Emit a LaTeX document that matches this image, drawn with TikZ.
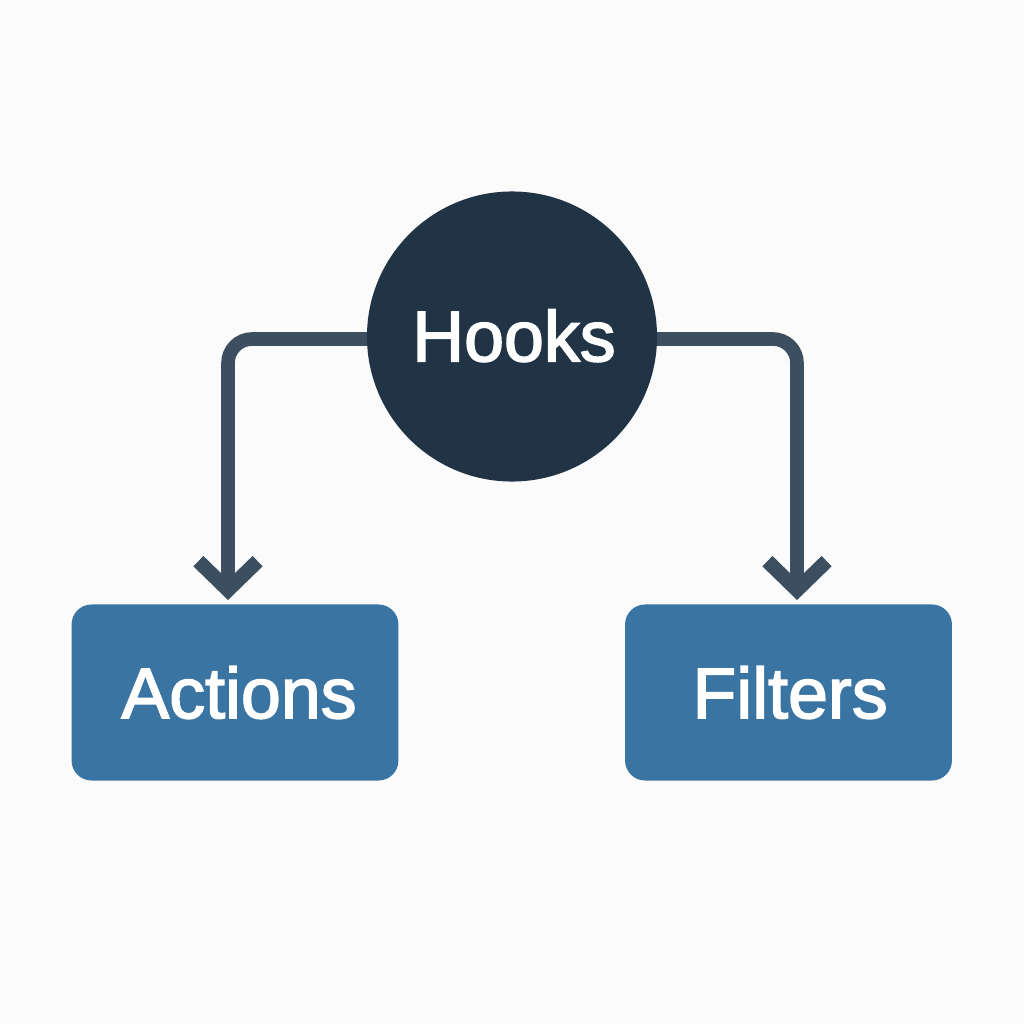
\documentclass[tikz,border=0pt]{standalone}
\usepackage{fontspec}
\setmainfont[FakeBold=2.2]{Liberation Sans}
\usetikzlibrary{arrows.meta}
\definecolor{pagebg}{HTML}{FBFBFB}
\definecolor{hubfill}{HTML}{203446}
\definecolor{boxfill}{HTML}{3A74A3}
\definecolor{linkcol}{HTML}{3B4F60}
\tikzset{
  hub/.style={circle, fill=hubfill, text=white, minimum size=7.25cm, inner sep=0pt, font=\fontsize{51}{51}\selectfont},
  box/.style={rectangle, rounded corners=0.5cm, fill=boxfill, text=white, minimum width=8.17cm, minimum height=4.4cm, inner sep=0pt, font=\fontsize{51}{51}\selectfont},
  link/.style={draw=linkcol, line width=0.34cm, rounded corners=0.6cm, -{Straight Barb[length=0.72cm, width=1.48cm, line width=0.36cm]}}
}
\begin{document}
\begin{tikzpicture}[x=0.025cm, y=-0.025cm]
        \useasboundingbox [fill=pagebg] (0,0) rectangle (1024,1024);

        \coordinate (leftend) at (228,600);
        \coordinate (rightend) at (797,600);

        \draw [link] (380,339) -| (leftend);
        \draw [link] (645,339) -| (rightend);

        \node [hub] (hooks) at (512,336.5) {\hspace*{0.1cm}\raisebox{0.06cm}{Hooks}};
        \node [box] (actions) at (235,692.5) {\hspace*{0.2cm}Actions};
        \node [box] (filters) at (788.5,692.5) {\hspace*{0.08cm}Filters};
      \end{tikzpicture}
\end{document}
